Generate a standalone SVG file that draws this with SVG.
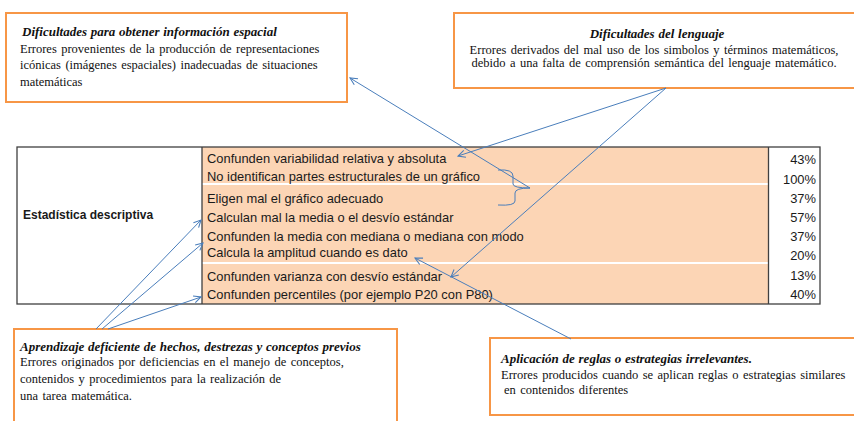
<svg xmlns="http://www.w3.org/2000/svg" width="854" height="421" viewBox="0 0 854 421">
<style>
.box{fill:#fff;stroke:#F79646;stroke-width:2}
.serif{font-family:"Liberation Serif","Times New Roman",serif;font-size:12.5px;word-spacing:1.3px;fill:#111}
.ttl{font-style:italic;font-weight:bold;font-size:13px;word-spacing:0.5px}
.sans{font-family:"Liberation Sans",Arial,sans-serif;font-size:12.9px;fill:#1a1a1a}
.pct{text-anchor:end}
.conn{fill:none;stroke:#4A7EBB;stroke-width:1}
.sep{stroke:#fff;stroke-width:2}
</style>
<defs>
<marker id="arr" viewBox="0 0 10 10" refX="9" refY="5" markerWidth="9" markerHeight="9" orient="auto" markerUnits="userSpaceOnUse">
<path d="M1,1 L9,5 L1,9" fill="none" stroke="#4A7EBB" stroke-width="1.2"/>
</marker>
</defs>
<rect width="854" height="421" fill="#fff"/>

<g id="table">
<rect x="202" y="147" width="566" height="157" fill="#FCD5B5"/>
<line class="sep" x1="202" y1="184" x2="768" y2="184"/>
<line class="sep" x1="202" y1="263" x2="768" y2="263"/>
<rect x="17" y="147" width="803" height="157" fill="none" stroke="#404040" stroke-width="1.3"/>
<line x1="202" y1="147" x2="202" y2="304" stroke="#404040" stroke-width="1.3"/>
<line x1="768.5" y1="147" x2="768.5" y2="304" stroke="#404040" stroke-width="1.3"/>
<text x="23" y="219" font-family="Liberation Sans,Arial,sans-serif" font-size="12" font-weight="bold" fill="#1a1a1a">Estadística descriptiva</text>
<text class="sans" x="207" y="163">Confunden variabilidad relativa y absoluta</text>
<text class="sans" x="207" y="181">No identifican partes estructurales de un gráfico</text>
<text class="sans" x="207" y="203">Eligen mal el gráfico adecuado</text>
<text class="sans" x="207" y="222">Calculan mal la media o el desvío estándar</text>
<text class="sans" x="207" y="241">Confunden la media con mediana o mediana con modo</text>
<text class="sans" x="207" y="257">Calcula la amplitud cuando es dato</text>
<text class="sans" x="207" y="281">Confunden varianza con desvío estándar</text>
<text class="sans" x="207" y="299">Confunden percentiles (por ejemplo P20 con P80)</text>
<text class="sans pct" x="816" y="164">43%</text>
<text class="sans pct" x="816" y="184">100%</text>
<text class="sans pct" x="816" y="203">37%</text>
<text class="sans pct" x="816" y="222">57%</text>
<text class="sans pct" x="816" y="241">37%</text>
<text class="sans pct" x="816" y="260">20%</text>
<text class="sans pct" x="816" y="280">13%</text>
<text class="sans pct" x="816" y="299">40%</text>
</g>

<g id="node-espacial">
<rect class="box" x="6" y="13" width="341" height="89"/>
<text class="serif ttl" x="22" y="36">Dificultades para obtener información espacial</text>
<text class="serif" x="20" y="53">Errores provenientes de la producción de representaciones</text>
<text class="serif" x="20" y="69">icónicas (imágenes espaciales) inadecuadas de situaciones</text>
<text class="serif" x="20" y="86">matemáticas</text>
</g>

<g id="node-lenguaje">
<rect class="box" x="454" y="13" width="420" height="75"/>
<text class="serif ttl" x="657" y="38" text-anchor="middle">Dificultades del lenguaje</text>
<text class="serif" x="654" y="54" text-anchor="middle">Errores derivados del mal uso de los simbolos y términos matemáticos,</text>
<text class="serif" x="654" y="67" text-anchor="middle">debido a una falta de comprensión semántica del lenguaje matemático.</text>
</g>

<g id="node-aprendizaje">
<rect class="box" x="14" y="329" width="383" height="110"/>
<text class="serif ttl" x="20" y="351">Aprendizaje deficiente de hechos, destrezas y conceptos previos</text>
<text class="serif" x="20" y="366">Errores originados por deficiencias en el manejo de conceptos,</text>
<text class="serif" x="20" y="383">contenidos y procedimientos para la realización de</text>
<text class="serif" x="20" y="400">una tarea matemática.</text>
</g>

<g id="node-reglas">
<rect class="box" x="490" y="338" width="400" height="77"/>
<text class="serif ttl" x="501" y="363">Aplicación de reglas o estrategias irrelevantes.</text>
<text class="serif" x="501" y="379">Errores producidos cuando se aplican reglas o estrategias similares</text>
<text class="serif" x="504" y="394">en contenidos diferentes</text>
</g>

<g id="connectors">
<line class="conn" x1="666" y1="88" x2="458" y2="156" marker-end="url(#arr)"/>
<line class="conn" x1="666" y1="88" x2="451" y2="277" marker-end="url(#arr)"/>
<line class="conn" x1="530" y1="188" x2="350" y2="78" marker-end="url(#arr)"/>
<path class="conn" d="M498,170 Q513,169 513,176 L513,184 Q513,188 530,188 Q515,188 515,193 L515,201 Q515,206 498,205"/>
<line class="conn" x1="571" y1="339" x2="415" y2="258" marker-end="url(#arr)"/>
<line class="conn" x1="96" y1="329" x2="201" y2="220" marker-end="url(#arr)"/>
<line class="conn" x1="102" y1="329" x2="203" y2="243" marker-end="url(#arr)"/>
<line class="conn" x1="108" y1="329" x2="201" y2="297" marker-end="url(#arr)"/>
</g>
</svg>
